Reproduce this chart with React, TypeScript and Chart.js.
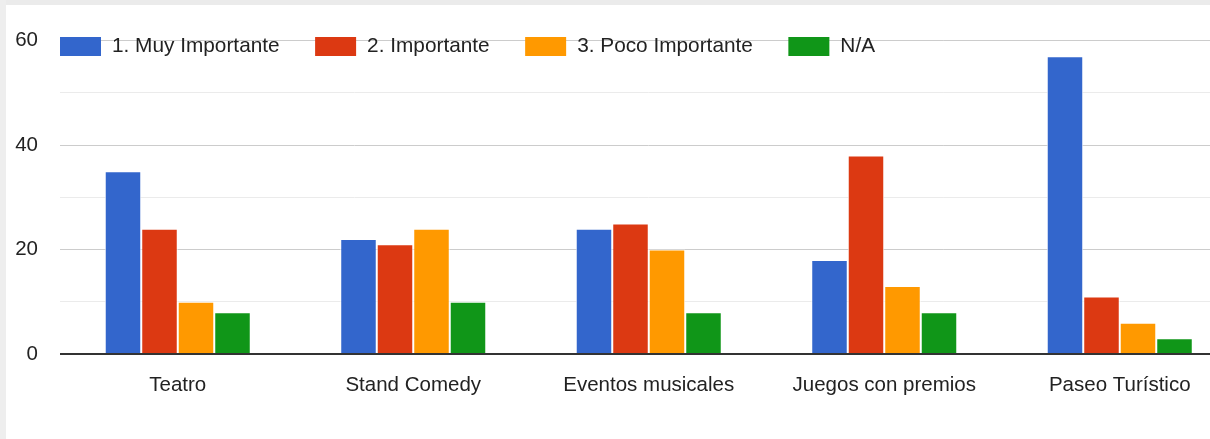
import React, { useEffect, useRef } from "react";
import { Chart, registerables } from "chart.js";

Chart.register(...registerables);

const categories = ["Teatro", "Stand Comedy", "Eventos musicales", "Juegos con premios", "Paseo Turístico"];
const seriesNames = ["1. Muy Importante", "2. Importante", "3. Poco Importante", "N/A"];
const muyImportante = [35, 22, 24, 18, 57];
const importante = [24, 21, 25, 38, 11];
const pocoImportante = [10, 24, 20, 13, 6];
const noAplica = [8, 10, 8, 8, 3];
const seriesColors = ["#3366cc", "#dc3912", "#ff9900", "#109618"];
const yMin = 0;
const yMax = 60;
const yStep = 10;
const yLabelStep = 20;

const FONT = "'Liberation Sans', Arial, sans-serif";
const FONT_SIZE = 20.5;
const LEGEND_FONT_SIZE = 20.8;
const TEXT_COLOR = "#222222";

const customLegend = {
  id: "customLegend",
  afterDraw(chart: any) {
    const ctx = chart.ctx;
    const area = chart.chartArea;
    ctx.save();
    ctx.font = `${LEGEND_FONT_SIZE}px ${FONT}`;
    ctx.textBaseline = "middle";
    ctx.textAlign = "left";
    let x = area.left;
    const yc = 46.5;
    chart.data.datasets.forEach((ds: any) => {
      ctx.fillStyle = ds.backgroundColor;
      ctx.fillRect(x, yc - 9.5, 41, 19);
      const tx = x + 52;
      ctx.fillStyle = TEXT_COLOR;
      ctx.fillText(ds.label, tx, yc);
      x = tx + ctx.measureText(ds.label).width + 35.5;
    });
    ctx.restore();
  },
};

export default function App() {
  const ref = useRef<HTMLCanvasElement | null>(null);

  useEffect(() => {
    if (!ref.current) return;
    const values = [muyImportante, importante, pocoImportante, noAplica];
    const chart = new Chart(ref.current, {
      type: "bar",
      data: {
        labels: categories,
        datasets: seriesNames.map((name, i) => ({
          label: name,
          data: values[i],
          backgroundColor: seriesColors[i],
          borderColor: "rgba(255,255,255,0.85)",
          borderWidth: 1,
          categoryPercentage: 0.62,
          barPercentage: 1,
        })),
      },
      options: {
        animation: false,
        responsive: false,
        layout: { padding: { left: 0, right: 2.5, top: 40.7, bottom: 0 } },
        plugins: {
          legend: { display: false },
          tooltip: { enabled: false },
        },
        scales: {
          x: {
            grid: { display: false },
            border: { display: false },
            ticks: {
              color: TEXT_COLOR,
              font: { family: FONT, size: FONT_SIZE },
              padding: 11,
              maxRotation: 0,
              autoSkip: false,
            },
            afterFit: (s: any) => {
              s.height = 85;
            },
          },
          y: {
            min: yMin,
            max: yMax,
            border: { display: false },
            grid: {
              drawTicks: false,
              color: (c: any) => {
                const v = c.tick ? c.tick.value : 0;
                if (v === 0) return "#333333";
                return v % yLabelStep === 0 ? "#cccccc" : "#ebebeb";
              },
              lineWidth: (c: any) => (c.tick && c.tick.value === 0 ? 2 : 1),
            },
            ticks: {
              stepSize: yStep,
              color: TEXT_COLOR,
              font: { family: FONT, size: FONT_SIZE },
              padding: 22,
              callback: (v: any) => (Number(v) % yLabelStep === 0 ? String(v) : ""),
            },
            afterFit: (s: any) => {
              s.width = 60;
            },
          },
        },
      },
      plugins: [customLegend],
    });
    return () => chart.destroy();
  }, []);

  return (
    <div
      style={{
        position: "fixed",
        left: 0,
        top: 0,
        width: 1210,
        height: 439,
        overflow: "hidden",
        background: "#ffffff",
      }}
    >
      <div style={{ position: "absolute", left: 0, top: 0, width: 1210, height: 5, background: "#ebebeb" }} />
      <div style={{ position: "absolute", left: 0, top: 0, width: 6, height: 439, background: "#eeeeee" }} />
      <canvas
        ref={ref}
        width={1240}
        height={439}
        style={{ position: "absolute", left: 0, top: 0, display: "block" }}
      />
    </div>
  );
}
